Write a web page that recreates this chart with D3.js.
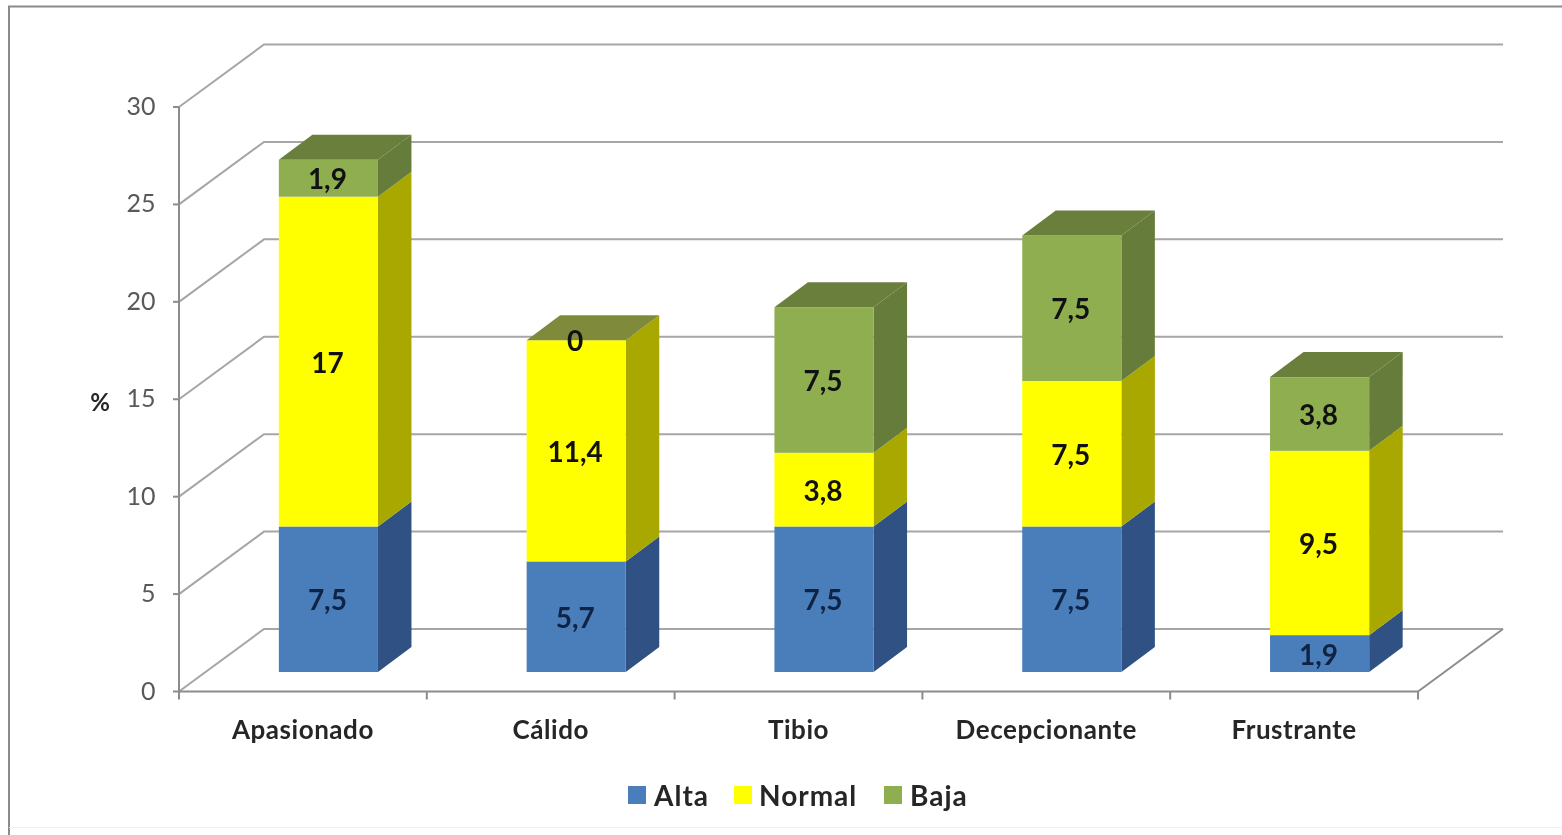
<!DOCTYPE html>
<html><head><meta charset="utf-8">
<script src="https://cdn.jsdelivr.net/npm/d3@7/dist/d3.min.js"></script>
<style>html,body{margin:0;padding:0;background:#fff;overflow:hidden}svg{display:block;filter:blur(0.55px)}text{font-family:Lato,"Open Sans",sans-serif}</style>
</head><body><svg id="c" width="1562" height="835"></svg>
<script>
const categories=["Apasionado","Cálido","Tibio","Decepcionante","Frustrante"];
const seriesNames=["Alta","Normal","Baja"];
const alta=[7.5,5.7,7.5,7.5,1.9];
const normal=[17,11.4,3.8,7.5,9.5];
const baja=[1.9,0,7.5,7.5,3.8];
const yTicks=[0,5,10,15,20,25,30];
const colors={Alta:"#4a7ebb",Normal:"#ffff00",Baja:"#8fae50"};
const sideColors={Alta:"#2f5183",Normal:"#a8a800",Baja:"#667c3a"};
const topColors={Alta:"#2f5183",Normal:"#a8a800",Baja:"#6b7f3c"};
const gridColor="#a6a6a6",axisColor="#8c8c8c",labelGray="#595959",labelDark="#262626";

const svg=d3.select("#c");
const x=d3.scaleBand().domain(categories).range([179,1418]).paddingInner(0.6).paddingOuter(0.3);
const y=d3.scaleLinear().domain([0,30]).range([691.5,107]);
const yBar=d3.scaleLinear().domain([0,30]).range([672,90]);
const depth={dx:85,dy:-62.5}, barOffX=25.5, barDepth={dx:33.5,dy:-25};

// frame
const frame=svg.append("g");
frame.append("path").attr("d","M9,835V6.5H1562").attr("fill","none").attr("stroke","#8a8a8a").attr("stroke-width",2);
frame.append("path").attr("d","M9,827.5H1562").attr("fill","none").attr("stroke","#f0f0f0").attr("stroke-width",1);

// grid on walls
const wall=svg.append("g").attr("fill","none").attr("stroke",gridColor).attr("stroke-width",2);
yTicks.forEach(t=>{
  const yy=y(t);
  wall.append("path").attr("d",`M${x.range()[0]},${yy}l${depth.dx},${depth.dy}H${x.range()[1]+depth.dx}`);
});
wall.append("path").attr("d",`M${x.range()[1]},${y(0)}l${depth.dx},${depth.dy}`).attr("stroke",axisColor);

// axes
const ax=svg.append("g").attr("stroke",axisColor).attr("stroke-width",2).attr("fill","none");
ax.append("path").attr("d",`M${x.range()[0]},${y(30)}V${y(0)}H${x.range()[1]}`);
yTicks.forEach(t=>ax.append("path").attr("d",`M${x.range()[0]-6},${y(t)}h6`));
const step=x.step();
d3.range(categories.length+1).forEach(i=>ax.append("path").attr("d",`M${x.range()[0]+i*step},${y(0)}v8`));

// tick labels
svg.append("g").selectAll("text").data(yTicks).join("text")
  .attr("x",155.5).attr("y",d=>y(d)+8).attr("text-anchor","end").attr("font-size",25).attr("fill",labelGray).text(d=>d);
svg.append("text").attr("x",100).attr("y",411).attr("text-anchor","middle").attr("font-size",24).attr("font-weight",700).attr("fill",labelDark).text("%");
svg.append("g").selectAll("text").data(categories).join("text")
  .attr("x",d=>x(d)+x.bandwidth()/2).attr("y",739).attr("text-anchor","middle")
  .attr("font-size",26).attr("letter-spacing",0.55).attr("font-weight",700).attr("fill",labelDark).text(d=>d);

// bars
const stack=d3.stack().keys(seriesNames).value((d,k)=>d[k]);
const rows=categories.map((c,i)=>({cat:c,Alta:alta[i],Normal:normal[i],Baja:baja[i]}));
const layers=stack(rows);
const bars=svg.append("g");
rows.forEach((r,i)=>{
  const x0=x(r.cat)+barOffX, w=x.bandwidth();
  layers.forEach(l=>{
    const [a,b]=l[i];
    const y0=yBar(a),y1=yBar(b);
    const k=l.key;
    bars.append("path").attr("fill",sideColors[k])
      .attr("d",`M${x0+w},${y0}L${x0+w+barDepth.dx},${y0+barDepth.dy}L${x0+w+barDepth.dx},${y1+barDepth.dy}L${x0+w},${y1}Z`);
    if(b-a>0) bars.append("rect").attr("x",x0).attr("y",y1).attr("width",w).attr("height",y0-y1).attr("fill",colors[k]);
  });
  const t=yBar(layers[2][i][1]);
  bars.append("path").attr("fill",r.Baja>0?topColors.Baja:"#7f8a3a")
    .attr("d",`M${x0},${t}L${x0+barDepth.dx},${t+barDepth.dy}H${x0+w+barDepth.dx}L${x0+w},${t}Z`);
});
// value labels
const lab=svg.append("g");
rows.forEach((r,i)=>{
  const cx=x(r.cat)+barOffX+x.bandwidth()/2-1;
  layers.forEach(l=>{
    const [a,b]=l[i];
    const my=yBar((a+b)/2);
    lab.append("text").attr("x",cx).attr("y",my+11).attr("text-anchor","middle")
      .attr("font-size",28).attr("font-weight",700).attr("fill",l.key==="Alta"?"#0f2444":"#111")
      .text(String(r[l.key]).replace(".",","));
  });
});

// legend
const legendPos=[{s:628,t:654},{s:734,t:759},{s:884,t:910}];
const lg=svg.append("g");
seriesNames.forEach((n,i)=>{
  lg.append("rect").attr("x",legendPos[i].s).attr("y",786).attr("width",18).attr("height",18).attr("fill",colors[n]);
  lg.append("text").attr("x",legendPos[i].t).attr("y",805.5).attr("font-size",28).attr("letter-spacing",1).attr("font-weight",700).attr("fill",labelDark).text(n);
});
</script></body></html>
